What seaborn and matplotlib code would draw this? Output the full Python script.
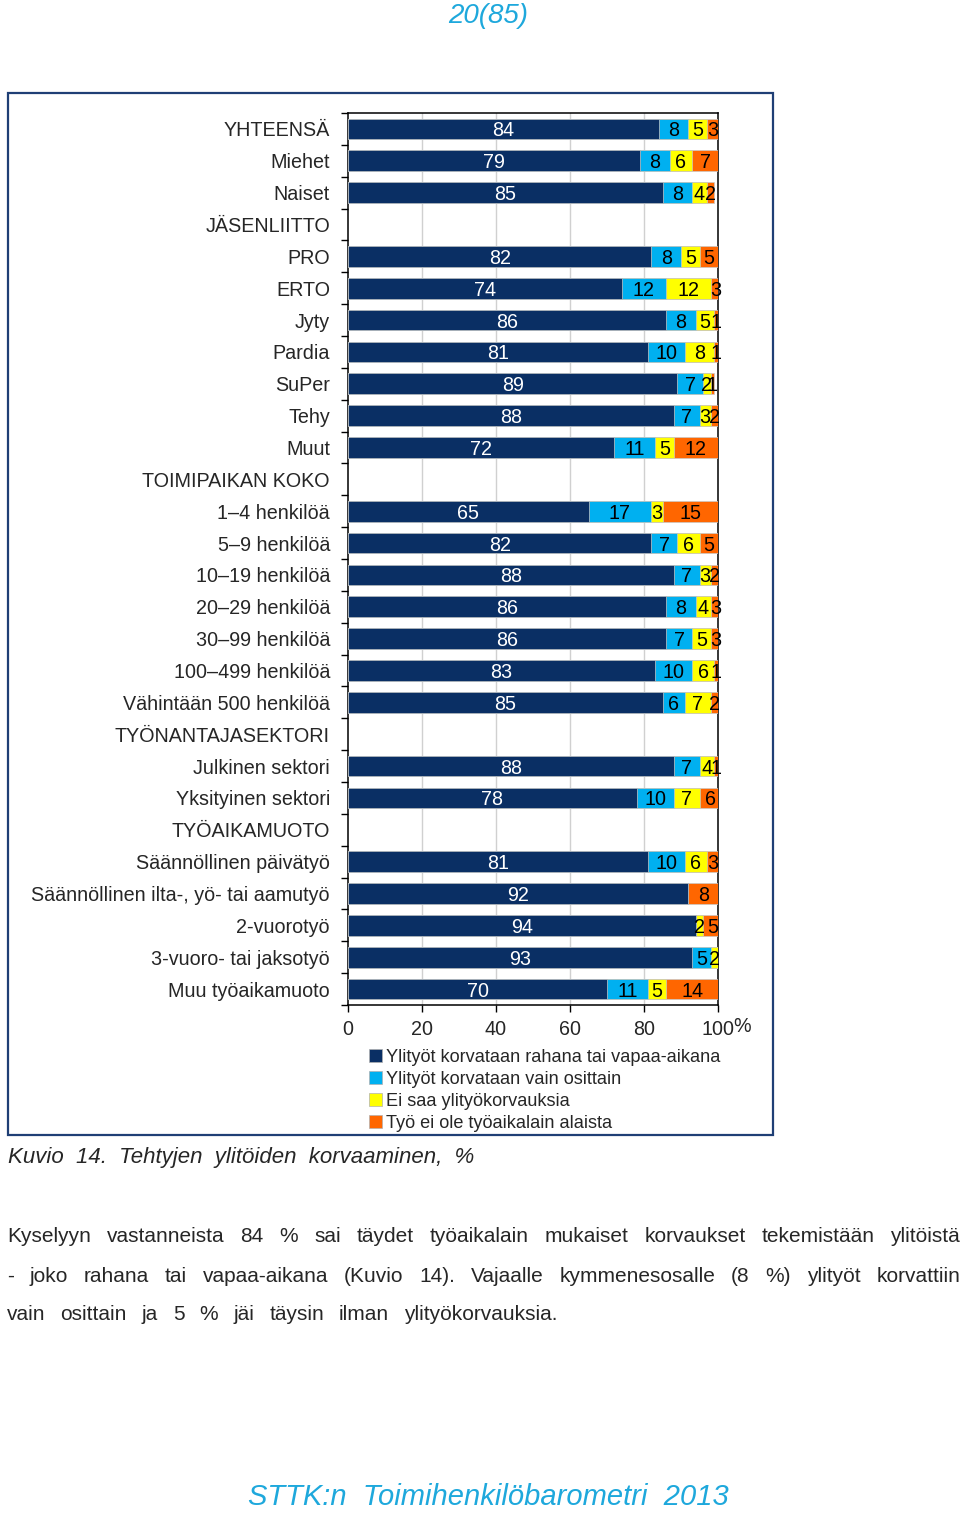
import numpy as np
import pandas as pd
import matplotlib
matplotlib.use("Agg")
import matplotlib.pyplot as plt
import seaborn as sns
from matplotlib.patches import Patch, Rectangle

categories = ["YHTEENSÄ", "Miehet", "Naiset", "JÄSENLIITTO", "PRO", "ERTO", "Jyty",
              "Pardia", "SuPer", "Tehy", "Muut", "TOIMIPAIKAN KOKO", "1–4 henkilöä",
              "5–9 henkilöä", "10–19 henkilöä", "20–29 henkilöä", "30–99 henkilöä",
              "100–499 henkilöä", "Vähintään 500 henkilöä", "TYÖNANTAJASEKTORI",
              "Julkinen sektori", "Yksityinen sektori", "TYÖAIKAMUOTO",
              "Säännöllinen päivätyö", "Säännöllinen ilta-, yö- tai aamutyö",
              "2-vuorotyö", "3-vuoro- tai jaksotyö", "Muu työaikamuoto"]
N = np.nan
rahana   = [84, 79, 85, N, 82, 74, 86, 81, 89, 88, 72, N, 65, 82, 88, 86, 86, 83, 85, N, 88, 78, N, 81, 92, 94, 93, 70]
osittain = [8, 8, 8, N, 8, 12, 8, 10, 7, 7, 11, N, 17, 7, 7, 8, 7, 10, 6, N, 7, 10, N, 10, 0, 0, 5, 11]
ei_saa   = [5, 6, 4, N, 5, 12, 5, 8, 2, 3, 5, N, 3, 6, 3, 4, 5, 6, 7, N, 4, 7, N, 6, 0, 2, 2, 5]
ei_ole   = [3, 7, 2, N, 5, 3, 1, 1, 1, 2, 12, N, 15, 5, 2, 3, 3, 1, 2, N, 1, 6, N, 3, 8, 5, 0, 14]
series_names = ["Ylityöt korvataan rahana tai vapaa-aikana", "Ylityöt korvataan vain osittain",
                "Ei saa ylityökorvauksia", "Työ ei ole työaikalain alaista"]
colors = ["#0A2F64", "#00B0F0", "#FFFF00", "#FF6600"]
xticks = [0, 20, 40, 60, 80, 100]
xticklabels = ["0", "20", "40", "60", "80", "100"]

df = pd.DataFrame({"cat": categories, "s1": rahana, "s2": osittain, "s3": ei_saa, "s4": ei_ole})
vals = df[["s1", "s2", "s3", "s4"]].to_numpy(dtype=float)
cum = np.nancumsum(vals, axis=1)
cum[np.isnan(vals)] = np.nan

sns.set_style("white")
plt.rcParams["font.family"] = ["Liberation Sans", "DejaVu Sans"]

FS = 14.2
W, H = 960, 1515
fig = plt.figure(figsize=(9.6, 15.15), dpi=100)
ax = fig.add_axes([348 / W, 1 - 1005 / H, 370 / W, 892 / H])

# frame around chart
fig.patches.append(Rectangle((8 / W, 1 - 1135 / H), 765 / W, 1042 / H, transform=fig.transFigure,
                             fill=False, edgecolor="#1F3F75", linewidth=1.6, zorder=0))

for k in [3, 2, 1, 0]:
    d = pd.DataFrame({"cat": categories, "v": cum[:, k]})
    sns.barplot(data=d, x="v", y="cat", order=categories, orient="h", color=colors[k],
                saturation=1, width=0.65, edgecolor="#C8C8C8", linewidth=0.5, ax=ax, zorder=3)

ax.set_xlim(0, 100)
ax.set_ylim(len(categories) - 0.5, -0.5)
ax.set_xlabel("")
ax.set_ylabel("")
for x in [20, 40, 60, 80]:
    ax.axvline(x, color="#D0D0D0", linewidth=1, zorder=1)

# value labels
for i in range(len(categories)):
    if np.isnan(vals[i, 0]):
        continue
    left = 0
    for k in range(4):
        v = vals[i, k]
        if v > 0:
            ax.text(left + v / 2, i, f"{int(v)}", ha="center", va="center_baseline", fontsize=FS,
                    color="white" if k == 0 else "black", zorder=5, clip_on=False)
        left += v

ax.set_xticks(xticks)
ax.set_xticklabels(xticklabels, fontsize=FS)
ax.text(1.0 + 15 / 370, -(1026 - 1005) / 892, "%", transform=ax.transAxes,
        fontsize=FS, ha="left", va="center")
ax.set_yticks(range(len(categories)))
ax.set_yticklabels(categories, fontsize=FS)
ax.tick_params(axis="y", length=0, pad=13)
ax.set_yticks(np.arange(-0.5, len(categories), 1), minor=True)
ax.tick_params(axis="y", which="minor", length=5, width=1, color="black", direction="out", left=True)
ax.tick_params(axis="x", length=5, width=1, color="black", direction="out", bottom=True, pad=6)
for s in ax.spines.values():
    s.set_visible(True)
    s.set_color("black")
    s.set_linewidth(1.1)

handles = [Patch(facecolor=c, edgecolor="#B0B0B0", linewidth=0.5) for c in colors]
fig.legend(handles, series_names, loc="upper left", bbox_to_anchor=(369 / W, 1 - 1049 / H),
           frameon=False, fontsize=13.1, handlelength=0.72, handleheight=0.72,
           handletextpad=0.2, labelspacing=0.28, borderpad=0, borderaxespad=0)

narrow = ["Liberation Sans Narrow", "Liberation Sans", "DejaVu Sans"]
cyan = "#1EA8DC"
fig.text(488 / W, 1 - 16 / H, "20(85)", ha="center", va="center", fontsize=20, style="italic",
         color=cyan, family=narrow)
fig.text(8 / W, 1 - 1157 / H, "Kuvio  14.  Tehtyjen  ylitöiden  korvaaminen,  %", ha="left",
         va="center", fontsize=16, style="italic", family=narrow)
fig.text(488 / W, 1 - 1497 / H, "STTK:n  Toimihenkilöbarometri  2013", ha="center", va="center",
         fontsize=21, style="italic", color=cyan, family=["Liberation Sans", "DejaVu Sans"])

# justified body text
lines = [
    ("Kyselyyn vastanneista 84 % sai täydet työaikalain mukaiset korvaukset tekemistään ylitöistä", 1236, True),
    ("- joko rahana tai vapaa-aikana (Kuvio 14). Vajaalle kymmenesosalle (8 %) ylityöt korvattiin", 1276, True),
    ("vain osittain ja 5 % jäi täysin ilman ylityökorvauksia.", 1315, False),
]
renderer = fig.canvas.get_renderer()
x0, x1 = 7, 960
for txt, y, just in lines:
    words = txt.split(" ")
    objs = [fig.text(0, 1 - y / H, w, fontsize=15, family=narrow, va="center", ha="left") for w in words]
    widths = [o.get_window_extent(renderer).width for o in objs]
    if just:
        gap = (x1 - x0 - sum(widths)) / (len(words) - 1)
    else:
        gap = 15
    x = x0
    for o, w in zip(objs, widths):
        o.set_x(x / W)
        x += w + gap

fig.savefig("out.png", dpi=100)
